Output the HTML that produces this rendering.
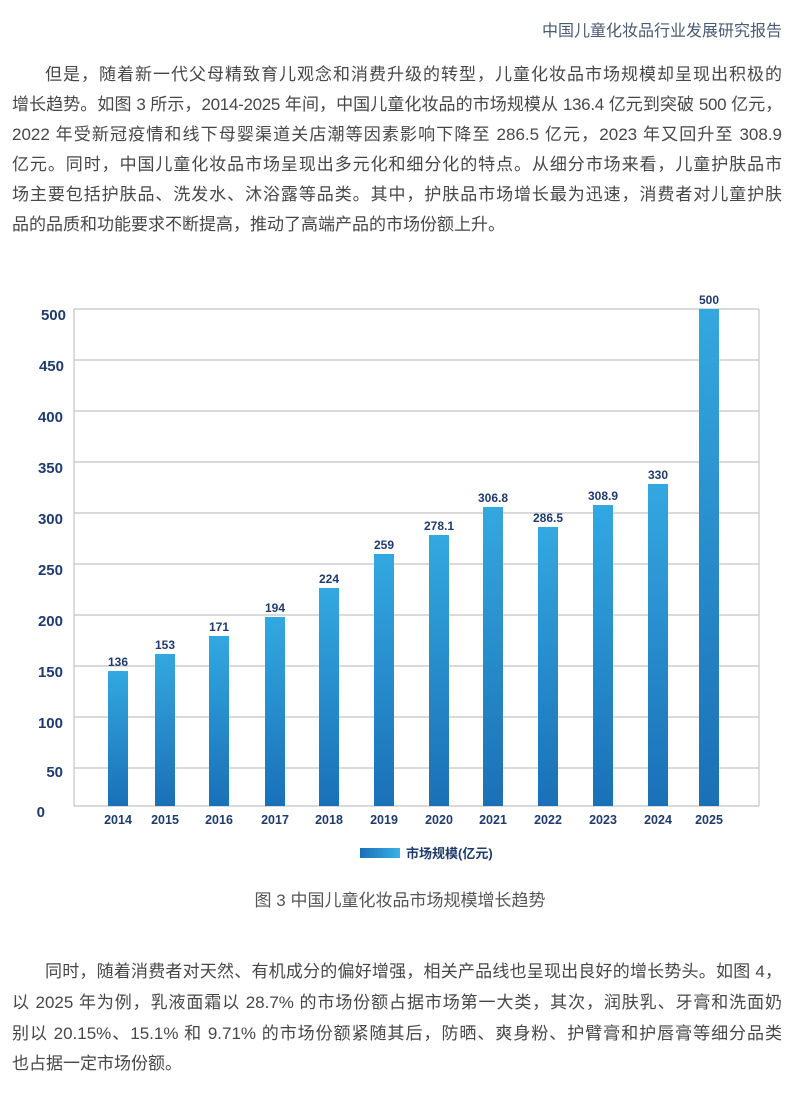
<!DOCTYPE html>
<html><head><meta charset="utf-8"><style>
body{margin:0;width:800px;height:1111px;background:#fff;position:relative;overflow:hidden;font-family:"Liberation Sans","Noto Sans CJK SC",sans-serif;color:#474747}
.l{position:absolute;left:12px;width:770px;font-size:17px;line-height:22px;white-space:nowrap;text-align:justify;text-align-last:justify}
.hd{position:absolute;right:18px;top:17px;font-size:16px;color:#4a5a70}
.cap{position:absolute;left:0;width:800px;text-align:center;top:886px;font-size:17px;color:#555}
</style></head><body>
<div class="hd">中国儿童化妆品行业发展研究报告</div>
<div class="l" style="top:64px;left:45px;width:737px">但是，随着新一代父母精致育儿观念和消费升级的转型，儿童化妆品市场规模却呈现出积极的</div>
<div class="l" style="top:94px;letter-spacing:-0.3px">增长趋势。如图 3 所示，2014-2025 年间，中国儿童化妆品的市场规模从 136.4 亿元到突破 500 亿元，</div>
<div class="l" style="top:124px">2022 年受新冠疫情和线下母婴渠道关店潮等因素影响下降至 286.5 亿元，2023 年又回升至 308.9</div>
<div class="l" style="top:154px">亿元。同时，中国儿童化妆品市场呈现出多元化和细分化的特点。从细分市场来看，儿童护肤品市</div>
<div class="l" style="top:184px">场主要包括护肤品、洗发水、沐浴露等品类。其中，护肤品市场增长最为迅速，消费者对儿童护肤</div>
<div class="l" style="top:214px;width:auto;text-align-last:auto">品的品质和功能要求不断提高，推动了高端产品的市场份额上升。</div>

<svg style="position:absolute;left:0;top:0" width="800" height="880">
<defs><linearGradient id="g" x1="0" y1="0" x2="0" y2="1"><stop offset="0" stop-color="#33a8e0"/><stop offset="1" stop-color="#1a70b6"/></linearGradient>
<linearGradient id="g2" x1="0" y1="0" x2="1" y2="0"><stop offset="0" stop-color="#1a70b6"/><stop offset="1" stop-color="#38b0e6"/></linearGradient></defs>
<g stroke="#c4c4c4" stroke-width="1.2">
<line x1="74" y1="309" x2="759" y2="309"/><line x1="74" y1="360" x2="759" y2="360"/><line x1="74" y1="411" x2="759" y2="411"/><line x1="74" y1="462" x2="759" y2="462"/><line x1="74" y1="513" x2="759" y2="513"/><line x1="74" y1="564" x2="759" y2="564"/><line x1="74" y1="615" x2="759" y2="615"/><line x1="74" y1="666" x2="759" y2="666"/><line x1="74" y1="717" x2="759" y2="717"/><line x1="74" y1="768" x2="759" y2="768"/>
<line x1="74" y1="806" x2="759" y2="806"/><line x1="74" y1="309" x2="74" y2="806"/><line x1="759" y1="309" x2="759" y2="806"/>
</g>
<g font-weight="bold" font-size="15" fill="#1f3b6e" text-anchor="end" font-family="Liberation Sans,sans-serif">
<text x="66" y="320">500</text><text x="64" y="371">450</text><text x="63" y="422">400</text><text x="63" y="473">350</text><text x="63" y="524">300</text><text x="63" y="575">250</text><text x="63" y="626">200</text><text x="63" y="677">150</text><text x="63" y="728">100</text><text x="63" y="777">50</text><text x="45" y="817">0</text>
</g>
<g fill="url(#g)">
<rect x="108" y="671" width="20" height="135"/><rect x="155" y="654" width="20" height="152"/><rect x="209" y="636" width="20" height="170"/><rect x="265" y="617" width="20" height="189"/><rect x="319" y="588" width="20" height="218"/><rect x="374" y="554" width="20" height="252"/><rect x="429" y="535" width="20" height="271"/><rect x="483" y="507" width="20" height="299"/><rect x="538" y="527" width="20" height="279"/><rect x="593" y="505" width="20" height="301"/><rect x="648" y="484" width="20" height="322"/><rect x="699" y="309" width="20" height="497"/>
</g>
<g font-weight="bold" font-size="12" fill="#1f3b6e" text-anchor="middle" font-family="Liberation Sans,sans-serif">
<text x="118" y="666">136</text><text x="165" y="649">153</text><text x="219" y="631">171</text><text x="275" y="612">194</text><text x="329" y="583">224</text><text x="384" y="549">259</text><text x="439" y="530">278.1</text><text x="493" y="502">306.8</text><text x="548" y="522">286.5</text><text x="603" y="500">308.9</text><text x="658" y="479">330</text><text x="709" y="304">500</text>
</g>
<g font-weight="bold" font-size="12.5" fill="#1f3b6e" text-anchor="middle" font-family="Liberation Sans,sans-serif">
<text x="118" y="824">2014</text><text x="165" y="824">2015</text><text x="219" y="824">2016</text><text x="275" y="824">2017</text><text x="329" y="824">2018</text><text x="384" y="824">2019</text><text x="439" y="824">2020</text><text x="493" y="824">2021</text><text x="548" y="824">2022</text><text x="603" y="824">2023</text><text x="658" y="824">2024</text><text x="709" y="824">2025</text>
</g>
<rect x="360" y="848" width="40" height="10" fill="url(#g2)"/>
<text x="406" y="858" font-size="13" font-weight="bold" fill="#1f3b6e" font-family="Liberation Sans,Noto Sans CJK SC,sans-serif">市场规模(亿元)</text>
</svg>
<div class="cap">图 3 中国儿童化妆品市场规模增长趋势</div>

<div class="l" style="top:961px;left:45px;width:737px">同时，随着消费者对天然、有机成分的偏好增强，相关产品线也呈现出良好的增长势头。如图 4，</div>
<div class="l" style="top:992px">以 2025 年为例，乳液面霜以 28.7% 的市场份额占据市场第一大类，其次，润肤乳、牙膏和洗面奶</div>
<div class="l" style="top:1023px">别以 20.15%、15.1% 和 9.71% 的市场份额紧随其后，防晒、爽身粉、护臂膏和护唇膏等细分品类</div>
<div class="l" style="top:1053px;width:auto;text-align-last:auto">也占据一定市场份额。</div>
</body></html>
